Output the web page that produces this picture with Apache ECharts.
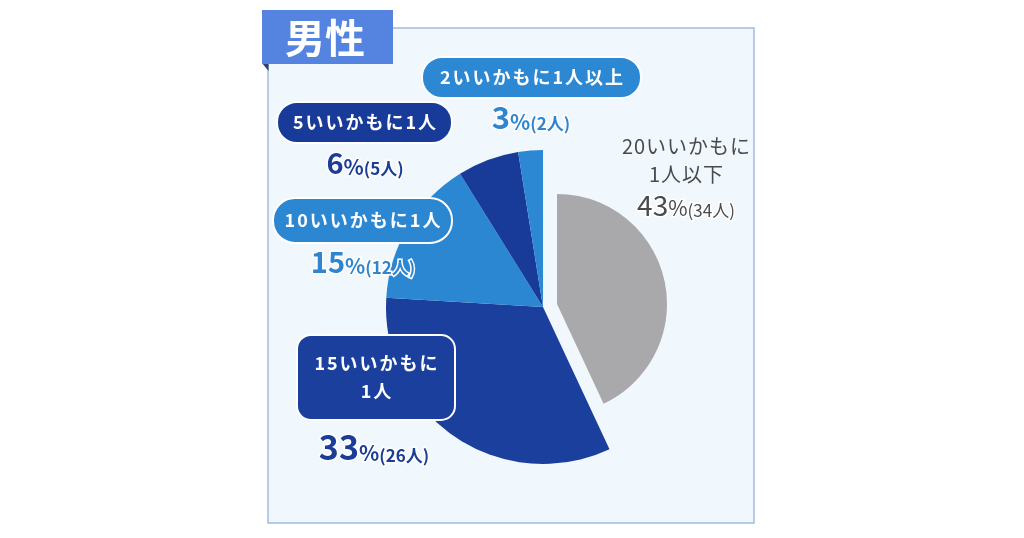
<!DOCTYPE html>
<html><head><meta charset="utf-8">
<script src="https://cdn.jsdelivr.net/npm/echarts@6/dist/echarts.min.js"></script>
<style>html,body{margin:0;padding:0;background:#fff}#c{width:1024px;height:538px}</style>
</head><body><div id="c"></div>
<script>
// ---- data ----
const title = '男性';
const categories = ['20いいかもに\n1人以下', '15いいかもに\n1人', '10いいかもに1人', '5いいかもに1人', '2いいかもに1人以上'];
const counts = [34, 26, 12, 5, 2];
const percents = [43, 33, 15, 6, 3];

// ---- styles / layout ----
const FONT = '"Noto Sans CJK JP", "Noto Sans", sans-serif';
const sliceColors = ['#a9a9ab', '#1a3f9d', '#2c87d2', '#183b99', '#2d88d4'];
const textColors = ['#4a4a4a', '#1b3d96', '#2f86cf', '#1b3d96', '#2f86cf'];
const boxes = [
  null,
  {x: 297, y: 335, w: 158, h: 85, r: 14},
  {x: 273, y: 198, w: 179, h: 45, r: 22},
  {x: 277, y: 102, w: 175, h: 41, r: 20},
  {x: 422, y: 57, w: 219, h: 41, r: 20}
];
const plainNamePos = [[686, 160], null, null, null, null];
const pctPos = [[686, 205], [374, 447], [363, 262], [365, 163], [531, 117]];
const bigSizes = [28, 34, 29, 29, 31];

// emulate letter spacing with one rich token per character
function spaced(s) {
  return [...s].map(ch => ch === '\n' ? '\n' : '{s|' + ch + '}').join('');
}

const chart = echarts.init(document.getElementById('c'), null, {renderer: 'canvas'});

const graphics = [];
// panel
graphics.push({type: 'rect', z: 0, shape: {x: 268, y: 28, width: 486, height: 495},
  style: {fill: '#f0f7fd', stroke: '#a3bbe0', lineWidth: 1.5}});
// title tab
graphics.push({type: 'polygon', z: 1, shape: {points: [[262, 63], [268.5, 63], [268.5, 71]]}, style: {fill: '#2b3f78'}});
graphics.push({type: 'rect', z: 1, shape: {x: 262, y: 10, width: 131, height: 54}, style: {fill: '#5583e0'}});
graphics.push({type: 'text', z: 2, x: 325, y: 38, style: {text: title, fill: '#fff', fontSize: 40, fontWeight: 'bold',
  fontFamily: FONT, align: 'center', verticalAlign: 'middle'}});

categories.forEach((name, i) => {
  const b = boxes[i];
  if (b) {
    graphics.push({type: 'rect', z: 10, shape: {x: b.x, y: b.y, width: b.w, height: b.h, r: b.r},
      style: {fill: sliceColors[i], stroke: '#ffffff', lineWidth: 2}});
    graphics.push({type: 'text', z: 11, x: b.x + b.w / 2, y: b.y + b.h / 2,
      style: {text: spaced(name), fill: '#fff', fontFamily: FONT, align: 'center', verticalAlign: 'middle',
        rich: {s: {fontSize: 18, fontWeight: 'bold', fontFamily: FONT, fill: '#fff', lineHeight: 28, padding: [0, 1, 0, 1]}}}});
  } else {
    const p = plainNamePos[i];
    graphics.push({type: 'text', z: 11, x: p[0], y: p[1],
      style: {text: spaced(name), fill: textColors[i], fontFamily: FONT, align: 'center', verticalAlign: 'middle',
        rich: {s: {fontSize: 20, fontFamily: FONT, fill: textColors[i], lineHeight: 28, padding: [0, 0.5, 0, 0.5]}}}});
  }
  const big = bigSizes[i];
  const w = i === 0 ? 'normal' : 'bold';
  const pp = pctPos[i];
  graphics.push({type: 'text', z: 12, x: pp[0], y: pp[1],
    style: {
      text: '{a|' + percents[i] + '}{b|%}{c|(' + counts[i] + '人)}',
      fill: textColors[i], stroke: '#ffffff', lineWidth: 3, fontFamily: FONT,
      align: 'center', verticalAlign: 'middle',
      rich: {
        a: {fontSize: big, lineHeight: big, fontWeight: w, fontFamily: FONT, fill: textColors[i], verticalAlign: 'bottom'},
        b: {fontSize: 21, lineHeight: 21, fontWeight: w, fontFamily: FONT, fill: textColors[i], verticalAlign: 'bottom'},
        c: {fontSize: 17, lineHeight: 17, fontWeight: w, fontFamily: FONT, fill: textColors[i], verticalAlign: 'bottom'}
      }
    }});
});

const baseData = categories.map((n, i) => ({name: n, value: counts[i]}));

chart.setOption({
  animation: false,
  backgroundColor: '#ffffff',
  graphic: {elements: graphics},
  series: [
    {
      type: 'pie', z: 3, center: [543, 307], radius: 157, startAngle: 90, clockwise: true,
      silent: true, label: {show: false}, labelLine: {show: false}, emphasis: {disabled: true},
      data: baseData.map((d, i) => ({...d, itemStyle: {color: i === 0 ? 'rgba(0,0,0,0)' : sliceColors[i], borderWidth: 0}}))
    },
    {
      type: 'pie', z: 3, center: [557, 304], radius: 110, startAngle: 90, clockwise: true,
      silent: true, label: {show: false}, labelLine: {show: false}, emphasis: {disabled: true},
      data: baseData.map((d, i) => ({...d, itemStyle: {color: i === 0 ? sliceColors[i] : 'rgba(0,0,0,0)', borderWidth: 0}}))
    }
  ]
});
</script>
</body></html>
